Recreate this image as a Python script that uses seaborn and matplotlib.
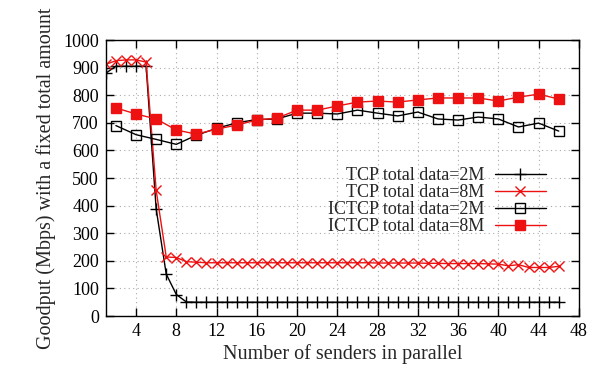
import matplotlib
matplotlib.use("Agg")
import matplotlib.pyplot as plt
import seaborn as sns
import pandas as pd
from matplotlib.ticker import MultipleLocator

sns.set_theme(style="ticks")
plt.rcParams['font.family'] = ['Liberation Serif', 'DejaVu Serif']
plt.rcParams['mathtext.fontset'] = 'stix'

# --- data ---
tcp_x = list(range(1, 47))
tcp2m = [880, 905, 905, 905, 905, 388, 152, 78, 51] + [50] * 37
tcp8m = [912, 925, 928, 928, 920, 455, 214, 212, 197, 195,
         193, 193, 193, 193, 193, 193, 193, 193, 193, 193,
         193, 193, 193, 193, 193, 193, 193, 192, 192, 192,
         192, 192, 191, 191, 190, 190, 190, 190, 189, 188,
         182, 186, 176, 176, 176, 180]
ic_x = list(range(2, 47, 2))
ictcp2m = [690, 657, 640, 622, 655, 680, 700, 712, 714, 735, 735, 732,
           746, 735, 725, 739, 714, 710, 721, 714, 685, 699, 670]
ictcp8m = [754, 732, 714, 674, 659, 677, 692, 710, 717, 746, 746, 761,
           775, 779, 775, 783, 790, 790, 790, 779, 793, 804, 786]
labels = ["TCP total data=2M", "TCP total data=8M",
          "ICTCP total data=2M", "ICTCP total data=8M"]
x_ticks = list(range(4, 49, 4))
y_ticks = list(range(0, 1001, 100))

RED = "#ee1111"

fig = plt.figure(figsize=(5.98, 3.74), dpi=100)
ax = fig.add_axes([0.177, 0.155, 0.791, 0.738])

fs = 13
sns.lineplot(x=tcp_x, y=tcp2m, ax=ax, color="black", lw=1.0, marker="+",
             markersize=9, mew=1.0, markeredgecolor="black", label=labels[0])
sns.lineplot(x=tcp_x, y=tcp8m, ax=ax, color=RED, lw=1.0, marker="x",
             markersize=7, mew=1.0, markeredgecolor=RED, label=labels[1])
sns.lineplot(x=ic_x, y=ictcp2m, ax=ax, color="black", lw=1.0, marker="s",
             markersize=7, mew=1.0, markerfacecolor="none",
             markeredgecolor="black", label=labels[2])
sns.lineplot(x=ic_x, y=ictcp8m, ax=ax, color=RED, lw=1.0, marker="s",
             markersize=7, mew=1.0, markerfacecolor=RED,
             markeredgecolor=RED, label=labels[3])

ax.set_xlim(1, 48)
ax.set_ylim(0, 1000)
ax.set_xticks(x_ticks)
ax.set_yticks(y_ticks)
ax.tick_params(direction="in", length=6, width=1.0, top=True, right=True,
               labelsize=fs, colors="black", pad=5)
ax.grid(True, linestyle=(0, (1, 3)), color="#aaaaaa", lw=0.8)
for s in ax.spines.values():
    s.set_color("black")
    s.set_linewidth(1.0)
ax.set_xlabel("Number of senders in parallel", fontsize=fs + 1.5, labelpad=3)
ax.set_ylabel("Goodput (Mbps) with a fixed total amount", fontsize=fs + 1.5,
              labelpad=5)

leg = ax.legend(loc="upper right", bbox_to_anchor=(0.945, 0.565),
                markerfirst=False, frameon=False, fontsize=fs,
                handlelength=2.8, labelspacing=0.0, handletextpad=0.6,
                alignment="right", borderaxespad=0)

fig.savefig("out.png", dpi=100, facecolor="white")
